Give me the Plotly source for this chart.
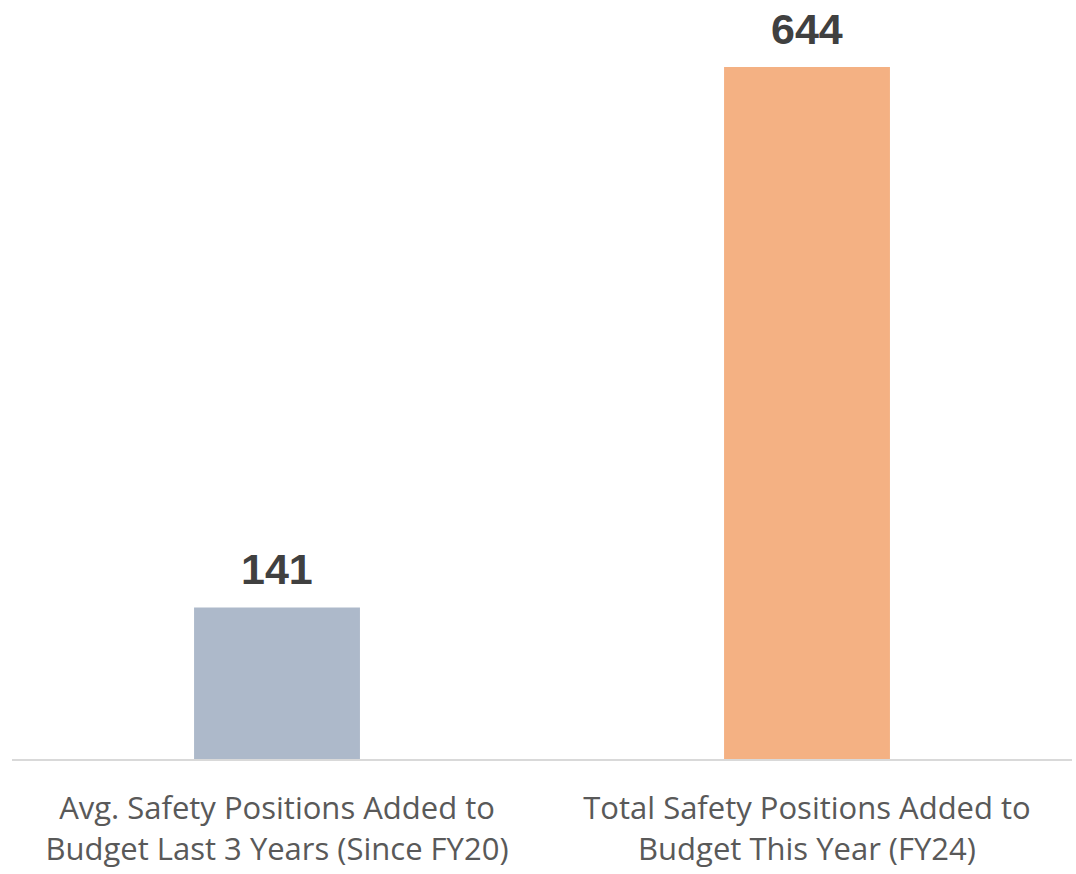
import plotly.graph_objects as go

categories = ["Avg. Safety Positions Added to<br>Budget Last 3 Years (Since FY20)",
              "Total Safety Positions Added to<br>Budget This Year (FY24)"]
values = [141, 644]
bar_colors = ["#ADB9CA", "#F4B183"]

fig = go.Figure()
fig.add_trace(go.Bar(
    x=categories, y=values,
    marker=dict(color=bar_colors, line=dict(width=0)),
    width=0.313,
    hoverinfo="skip",
))

for c, v in zip(categories, values):
    fig.add_annotation(
        x=c, y=v, text=str(v), showarrow=False,
        xanchor="center", yanchor="bottom", yshift=12,
        font=dict(family="Liberation Sans", size=43, color="#404040", weight="bold"),
    )

fig.update_layout(
    width=1076, height=874,
    margin=dict(l=12, r=4, t=67, b=115),
    paper_bgcolor="white", plot_bgcolor="white",
    showlegend=False,
    xaxis=dict(
        type="category",
        showline=True, linecolor="#D9D9D9", linewidth=2,
        showgrid=False, ticks="",
        tickfont=dict(family="Open Sans", size=31, color="#595959"),
        ticklabelstandoff=21,
    ),
    yaxis=dict(range=[0, 644], visible=False, showgrid=False, zeroline=False),
)

fig.write_html("out.html", config={"displayModeBar": False},
               post_script="document.body.style.margin='0';")
